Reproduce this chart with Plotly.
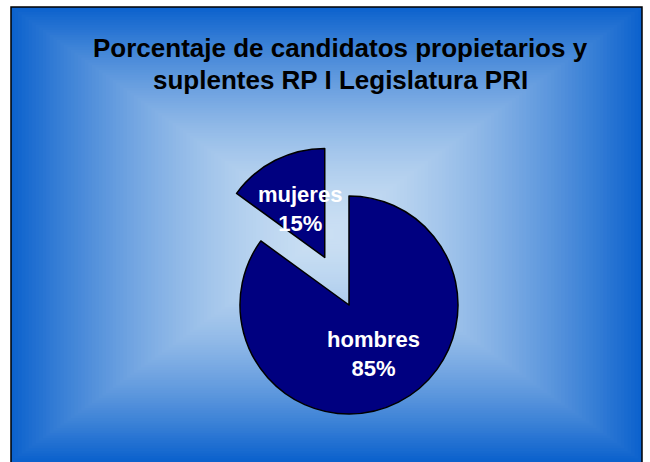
import math
import plotly.graph_objects as go

# ---- data ----
labels = ["hombres", "mujeres"]
values = [85, 15]
title_lines = ["Porcentaje de candidatos propietarios y", "suplentes RP I Legislatura PRI"]

# ---- layout constants (pixels) ----
W, H = 650, 462
BOX = (11, 7, 642, 466)          # chart-area frame x0, y0, x1, y1 (px from top-left)
CX, CY, R = 349, 305, 109        # main pie centre and radius
PULL = 0.49                      # explode distance of the small slice (fraction of R)
NAVY = "#000080"
EDGE = (12, 98, 205)
CENTER = (202, 223, 243)
TITLE_Y = [48, 80]


def px(x):
    return x / W


def py(y):
    return 1 - y / H


fig = go.Figure()

# ---- rectangular gradient background (nested rectangles) ----
bx0, by0, bx1, by1 = BOX
gcx, gcy = (bx0 + bx1) / 2, (by0 + 461) / 2
hw, hh = (bx1 - bx0) / 2, (461 - by0) / 2
N = 90
shapes = [dict(type="rect", xref="paper", yref="paper", layer="below",
               x0=px(bx0), x1=px(bx1), y0=py(by1), y1=py(by0),
               line=dict(width=0), fillcolor="rgb(%d,%d,%d)" % EDGE)]
for k in range(N):
    t = 1 - k / N
    f = t ** 1.6
    col = tuple(round(CENTER[i] + (EDGE[i] - CENTER[i]) * f) for i in range(3))
    shapes.append(dict(type="rect", xref="paper", yref="paper", layer="below",
                       x0=px(gcx - t * hw), x1=px(gcx + t * hw),
                       y0=py(gcy + t * hh), y1=py(gcy - t * hh),
                       line=dict(width=0), fillcolor="rgb(%d,%d,%d)" % col))
shapes.append(dict(type="rect", xref="paper", yref="paper", layer="below",
                   x0=px(bx0), x1=px(bx1), y0=py(by1), y1=py(by0),
                   line=dict(color="black", width=1.5), fillcolor="rgba(0,0,0,0)"))

# ---- pie slices ----
total = sum(values)
fracs = [v / total for v in values]
start = 0.0
mids = []
for fr in fracs:
    mids.append((start + fr / 2) * 2 * math.pi)
    start += fr


def domain(cx, cy):
    return dict(x=[px(cx - R), px(cx + R)], y=[py(cy + R), py(cy - R)])


# main (non-exploded) slice
fig.add_trace(go.Pie(
    labels=labels, values=values, sort=False, direction="clockwise", rotation=0,
    marker=dict(colors=[NAVY, "rgba(0,0,0,0)"],
                line=dict(color=["black", "rgba(0,0,0,0)"], width=[1.5, 0])),
    textinfo="none", showlegend=False, domain=domain(CX, CY), hoverinfo="label+percent"))

# exploded slice
am = mids[1]
MX = CX + PULL * R * math.sin(am)
MY = CY - PULL * R * math.cos(am)
fig.add_trace(go.Pie(
    labels=labels, values=values, sort=False, direction="clockwise", rotation=0,
    marker=dict(colors=["rgba(0,0,0,0)", NAVY],
                line=dict(color=["rgba(0,0,0,0)", "black"], width=[0, 1.5])),
    textinfo="none", showlegend=False, domain=domain(MX, MY), hoverinfo="label+percent"))

# ---- slice labels ----
annotations = []
centres = [(CX, CY), (MX, MY)]
for lab, fr, a, (ox, oy) in zip(labels, fracs, mids, centres):
    lx = ox + 0.5 * R * math.sin(a)
    ly = oy - 0.5 * R * math.cos(a)
    annotations.append(dict(x=px(lx), y=py(ly), xref="paper", yref="paper",
                            text="<b>%s<br>%d%%</b>" % (lab, round(fr * 100)),
                            showarrow=False, xanchor="center", yanchor="middle",
                            font=dict(family="Liberation Sans, Arial", size=22, color="white")))

for line, ty in zip(title_lines, TITLE_Y):
    annotations.append(dict(x=px(340), y=py(ty), xref="paper", yref="paper",
                            text="<b>" + line + "</b>",
                            showarrow=False, xanchor="center", yanchor="middle",
                            font=dict(family="Liberation Sans, Arial", size=26, color="black")))

fig.update_layout(width=W, height=H, margin=dict(l=0, r=0, t=0, b=0),
                  paper_bgcolor="white", plot_bgcolor="white",
                  shapes=shapes, annotations=annotations, showlegend=False)

fig.write_html("out.html", config={"displayModeBar": False},
               post_script="document.body.style.margin='0';")
